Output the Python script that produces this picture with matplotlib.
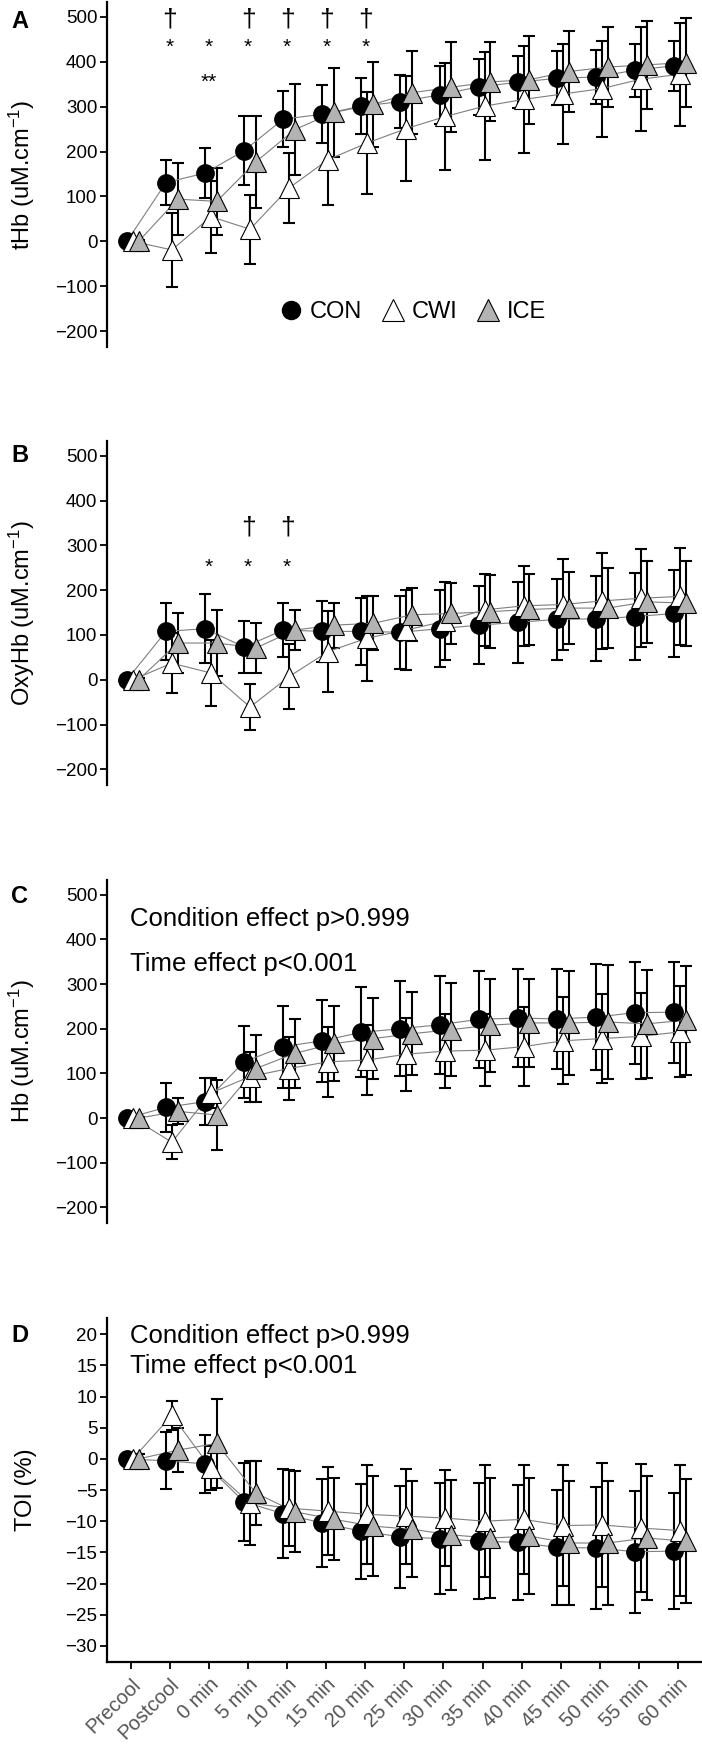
import numpy as np
import matplotlib
matplotlib.use('Agg')
import matplotlib.pyplot as plt
from matplotlib.lines import Line2D

plt.rcParams['font.family'] = ['Liberation Sans', 'DejaVu Sans']
plt.rcParams['mathtext.fontset'] = 'custom'
plt.rcParams['mathtext.rm'] = 'Liberation Sans'
plt.rcParams['mathtext.it'] = 'Liberation Sans'

# time points
time_labels = ['Precool', 'Postcool', '0 min', '5 min', '10 min', '15 min', '20 min', '25 min',
               '30 min', '35 min', '40 min', '45 min', '50 min', '55 min', '60 min']

# tHb
thb_con = [0, 131, 152, 202, 272, 283, 301, 311, 326, 344, 354, 363, 366, 381, 391]
thb_con_sd = [3, 51, 56, 77, 62, 64, 62, 59, 65, 62, 58, 60, 60, 59, 56]
thb_cwi = [0, -19, 55, 27, 119, 182, 219, 251, 278, 301, 316, 328, 340, 361, 372]
thb_cwi_sd = [3, 82, 80, 77, 78, 100, 114, 116, 120, 121, 119, 111, 107, 116, 115]
thb_ice = [0, 94, 89, 177, 249, 287, 305, 331, 343, 355, 360, 378, 388, 393, 398]
thb_ice_sd = [3, 80, 75, 103, 102, 100, 94, 93, 100, 88, 98, 90, 90, 98, 100]

# OxyHb
oxy_con = [0, 108, 114, 73, 111, 108, 108, 106, 114, 122, 128, 135, 136, 141, 148]
oxy_con_sd = [3, 63, 77, 58, 60, 68, 74, 82, 86, 87, 91, 91, 95, 97, 97]
oxy_cwi = [0, 37, 15, -61, 7, 63, 93, 111, 131, 156, 165, 168, 176, 182, 186]
oxy_cwi_sd = [3, 67, 73, 52, 72, 91, 95, 89, 88, 80, 89, 101, 108, 109, 109]
oxy_ice = [0, 82, 82, 71, 111, 122, 126, 145, 148, 152, 157, 160, 160, 174, 171]
oxy_ice_sd = [3, 67, 74, 56, 45, 50, 60, 59, 69, 82, 79, 81, 90, 92, 95]

# Hb
hb_con = [0, 24, 37, 126, 160, 173, 192, 200, 209, 221, 224, 222, 226, 236, 237]
hb_con_sd = [3, 55, 52, 80, 92, 92, 101, 106, 110, 109, 109, 111, 118, 114, 113]
hb_cwi = [0, -54, 56, 93, 111, 126, 130, 143, 150, 152, 160, 173, 178, 183, 193]
hb_cwi_sd = [3, 38, 33, 56, 70, 78, 78, 82, 83, 81, 89, 97, 99, 96, 102]
hb_ice = [0, 15, 7, 111, 145, 167, 178, 189, 198, 208, 213, 213, 215, 211, 219]
hb_ice_sd = [3, 29, 78, 75, 77, 85, 91, 93, 104, 104, 99, 117, 128, 121, 122]

# TOI
toi_con = [0, -0.3, -0.8, -6.9, -8.8, -10.3, -11.6, -12.5, -12.8, -13.2, -13.4, -14.2, -14.3, -14.9, -14.8]
toi_con_sd = [0.8, 4.6, 4.7, 6.2, 7.1, 7.1, 7.6, 8.2, 8.9, 9.3, 9.2, 9.2, 9.8, 9.8, 9.3]
toi_cwi = [0, 7.0, -1.5, -7.1, -7.9, -8.4, -8.9, -9.2, -9.5, -10.0, -9.7, -10.7, -10.6, -11.1, -11.5]
toi_cwi_sd = [0.8, 2.3, 3.5, 6.7, 6.1, 7.1, 7.9, 7.6, 7.7, 9.0, 8.7, 9.7, 10.0, 10.3, 10.5]
toi_ice = [0, 1.4, 2.5, -5.5, -8.5, -9.7, -10.8, -11.3, -12.2, -12.7, -12.4, -13.5, -13.5, -12.7, -13.2]
toi_ice_sd = [0.8, 3.5, 7.1, 5.1, 6.5, 6.6, 8.0, 7.7, 8.8, 9.6, 9.3, 10.0, 10.0, 10.0, 10.0]

# significance marks (time index)
thb_dagger = [1, 3, 4, 5, 6]
thb_star = [1, 2, 3, 4, 5, 6]
thb_dstar = [2]
oxy_dagger = [3, 4]
oxy_star = [2, 3, 4]

x = np.arange(len(time_labels))
gray = '#b3b3b3'

fig = plt.figure(figsize=(7.02, 17.46), dpi=100)
left, width = 107 / 702, 594 / 702
boxes = [(0.8013, 0.1976), (0.5504, 0.1970), (0.2995, 0.1965), (0.0481, 0.1970)]
axes = [fig.add_axes([left, b, width, h]) for b, h in boxes]

panels = [
    (thb_con, thb_con_sd, thb_cwi, thb_cwi_sd, thb_ice, thb_ice_sd),
    (oxy_con, oxy_con_sd, oxy_cwi, oxy_cwi_sd, oxy_ice, oxy_ice_sd),
    (hb_con, hb_con_sd, hb_cwi, hb_cwi_sd, hb_ice, hb_ice_sd),
    (toi_con, toi_con_sd, toi_cwi, toi_cwi_sd, toi_ice, toi_ice_sd),
]
ylabels = ['tHb (uM.cm$^{-1}$)', 'OxyHb (uM.cm$^{-1}$)', 'Hb (uM.cm$^{-1}$)', 'TOI (%)']
letters = ['A', 'B', 'C', 'D']

for i, ax in enumerate(axes):
    con, con_sd, cwi, cwi_sd, ice, ice_sd = panels[i]
    series = [
        (con, con_sd, -0.1, dict(marker='o', mfc='black', mec='black', ms=12.5)),
        (cwi, cwi_sd, 0.05, dict(marker='^', mfc='white', mec='black', ms=15, mew=0.8)),
        (ice, ice_sd, 0.2, dict(marker='^', mfc=gray, mec='black', ms=15, mew=0.8)),
    ]
    for vals, sd, off, mk in series:
        xs = x + off
        ax.errorbar(xs, vals, yerr=sd, fmt='none', ecolor='black', elinewidth=1.5,
                    capsize=4.5, capthick=1.5, zorder=2)
    for vals, sd, off, mk in series:
        xs = x + off
        ax.plot(xs, vals, color='#7f7f7f', lw=0.8, zorder=3)
    for j, (vals, sd, off, mk) in enumerate(series):
        xs = x + off
        ax.plot(xs, vals, ls='none', zorder=4 + j, **mk)

    ax.set_xlim(-0.61, 14.59)
    for s in ['top', 'right']:
        ax.spines[s].set_visible(False)
    ax.spines['left'].set_linewidth(1.6)
    ax.tick_params(axis='y', labelsize=13.5, width=1.3, length=5, direction='out', pad=2)
    ax.set_ylabel(ylabels[i], fontsize=17)
    ax.yaxis.set_label_coords(-0.118, 0.5)
    if i < 3:
        ax.set_ylim(-235, 533)
        ax.set_yticks([-200, -100, 0, 100, 200, 300, 400, 500])
        ax.spines['bottom'].set_visible(False)
        ax.set_xticks([])
    else:
        ax.set_ylim(-32.6, 22.6)
        ax.set_yticks(np.arange(-30, 21, 5))
        ax.spines['bottom'].set_linewidth(1.6)
        ax.set_xticks(x)
        ax.set_xticklabels(time_labels, rotation=45, ha='right', va='top',
                           rotation_mode='anchor', fontsize=14.5, color='#555555')
        ax.tick_params(axis='x', width=1.3, length=5, pad=4)

# panel letters
for ax, lab, ytop in zip(axes, letters, [21, 456, 897, 1335]):
    fig.text(20 / 702, 1 - ytop / 1746, lab, fontsize=17, fontweight='bold',
             ha='center', va='center')

# significance marks
axA, axB, axC, axD = axes
for k in thb_dagger:
    axA.text(x[k], 493, '\u2020', ha='center', va='center', fontsize=19)
for k in thb_star:
    axA.text(x[k], 432, '*', ha='center', va='center', fontsize=15)
for k in thb_dstar:
    axA.text(x[k], 354, '**', ha='center', va='center', fontsize=15)
for k in oxy_dagger:
    axB.text(x[k], 339, '\u2020', ha='center', va='center', fontsize=19)
for k in oxy_star:
    axB.text(x[k], 251, '*', ha='center', va='center', fontsize=15)

# stats text
for ax, y1, y2 in [(axC, 445, 345), (axD, 19.8, 14.9)]:
    ax.text(-0.03, y1, 'Condition effect p>0.999', fontsize=18.5, ha='left', va='center')
    ax.text(-0.03, y2, 'Time effect p<0.001', fontsize=18.5, ha='left', va='center')

# legend
handles = [
    Line2D([], [], ls='none', marker='o', mfc='black', mec='black', ms=13),
    Line2D([], [], ls='none', marker='^', mfc='white', mec='black', ms=16, mew=0.8),
    Line2D([], [], ls='none', marker='^', mfc=gray, mec='black', ms=16, mew=0.8),
]
axA.legend(handles, ['CON', 'CWI', 'ICE'], loc='center', bbox_to_anchor=(0.515, 0.10),
           ncol=3, frameon=False, fontsize=17, handlelength=1.0, handletextpad=0.3,
           columnspacing=0.8)

fig.savefig('out.png', dpi=100)
